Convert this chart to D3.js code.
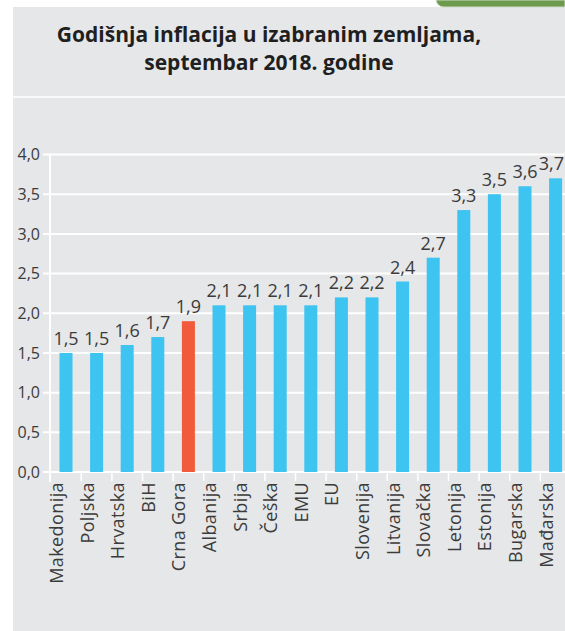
<!DOCTYPE html>
<html>
<head>
<meta charset="utf-8">
<script src="https://cdn.jsdelivr.net/npm/d3@7"></script>
<style>
	body { margin: 0; background: #fff; }
	svg { display: block; }
	text { font-family: "Open Sans", sans-serif; fill: #3b3b3b; }
</style>
</head>
<body>
<svg id="chart" width="565" height="631"></svg>
<script>
const COUNTRIES = ["Makedonija", "Poljska", "Hrvatska", "BiH", "Crna Gora", "Albanija", "Srbija", "Češka", "EMU", "EU", "Slovenija", "Litvanija", "Slovačka", "Letonija", "Estonija", "Bugarska", "Mađarska"];
const INFLATION = [1.5, 1.5, 1.6, 1.7, 1.9, 2.1, 2.1, 2.1, 2.1, 2.2, 2.2, 2.4, 2.7, 3.3, 3.5, 3.6, 3.7];
const Y_TICKS = [0, 0.5, 1, 1.5, 2, 2.5, 3, 3.5, 4];
const HIGHLIGHT = "Crna Gora";
const TITLE_LINES = ["Godišnja inflacija u izabranim zemljama,", "septembar 2018. godine"];

const BG_COLOR = "#e6e7e9";
const BAR_COLOR = "#3ec4f1";
const HIGHLIGHT_COLOR = "#f15a3a";

const svg = d3.select("#chart");
const width = +svg.attr("width");
const height = +svg.attr("height");

// panel background + green tab at top right
svg.append("rect")
	.attr("x", 13)
	.attr("y", 7)
	.attr("width", width - 13)
	.attr("height", height - 7)
	.attr("fill", BG_COLOR);

svg.append("path")
	.attr("d", `M436,0 Q437,6 443,7 L${width},7 L${width},0 Z`)
	.attr("fill", "#6e9a4e")
	.attr("stroke", "#cfdcc4")
	.attr("stroke-width", 1);

svg.append("g")
	.selectAll("text")
	.data(TITLE_LINES)
	.join("text")
	.attr("x", 269)
	.attr("y", (d, i) => 42 + i * 28)
	.attr("text-anchor", "middle")
	.attr("font-size", 21)
	.attr("font-weight", 700)
	.style("fill", "#1f1f1f")
	.text(d => d);

svg.append("line")
	.attr("x1", 13)
	.attr("x2", width)
	.attr("y1", 97)
	.attr("y2", 97)
	.attr("stroke", "#fff")
	.attr("stroke-width", 1.5);

// SCALES
// ======
const x = d3.scaleBand()
	.domain(COUNTRIES)
	.range([50.7, 50.7 + COUNTRIES.length * 30.6])
	.paddingInner(0.575)
	.paddingOuter(0.2875);

const y = d3.scaleLinear()
	.domain([0, 4])
	.range([472, 154.5]);

const fmt = v => d3.format(".1f")(v).replace(".", ",");

// grid
svg.append("g")
	.selectAll("line")
	.data(Y_TICKS)
	.join("line")
	.attr("x1", 43)
	.attr("x2", width)
	.attr("y1", d => y(d))
	.attr("y2", d => y(d))
	.attr("stroke", "#fff")
	.attr("stroke-width", 2);

svg.append("line")
	.attr("x1", 50)
	.attr("x2", 50)
	.attr("y1", y(4))
	.attr("y2", 482)
	.attr("stroke", "#fff")
	.attr("stroke-width", 2);

// separators between categories
svg.append("g")
	.selectAll("line")
	.data(COUNTRIES.slice(1))
	.join("line")
	.attr("x1", d => x(d) - x.step() * x.paddingInner() / 2)
	.attr("x2", d => x(d) - x.step() * x.paddingInner() / 2)
	.attr("y1", 472)
	.attr("y2", 481)
	.attr("stroke", "#fff")
	.attr("stroke-width", 1.5);

svg.append("g")
	.selectAll("text")
	.data(Y_TICKS)
	.join("text")
	.attr("x", 40)
	.attr("y", d => y(d))
	.attr("dy", "0.36em")
	.attr("text-anchor", "end")
	.attr("font-size", 16)
	.text(fmt);

// bars
svg.append("g")
	.selectAll("rect")
	.data(COUNTRIES)
	.join("rect")
	.attr("x", d => x(d))
	.attr("width", x.bandwidth())
	.attr("y", (d, i) => y(INFLATION[i]))
	.attr("height", (d, i) => y(0) - y(INFLATION[i]))
	.attr("fill", d => d === HIGHLIGHT ? HIGHLIGHT_COLOR : BAR_COLOR);

// value labels, kept inside the right edge
svg.append("g")
	.selectAll("text")
	.data(COUNTRIES)
	.join("text")
	.attr("x", d => x(d) + x.bandwidth() / 2)
	.attr("y", (d, i) => y(INFLATION[i]) - 8)
	.attr("text-anchor", "middle")
	.attr("font-size", 18)
	.text((d, i) => fmt(INFLATION[i]))
	.each(function(d) {
		const w = this.getComputedTextLength();
		const cx = Math.min(x(d) + x.bandwidth() / 2, width - w / 2 - 1);
		d3.select(this).attr("x", cx);
	});

// rotated category labels
svg.append("g")
	.selectAll("text")
	.data(COUNTRIES)
	.join("text")
	.attr("transform", d => `translate(${x(d) + x.bandwidth() / 2 - 3},482) rotate(-90)`)
	.attr("text-anchor", "end")
	.attr("font-size", 18)
	.attr("letter-spacing", 0.4)
	.text(d => d);
</script>
</body>
</html>
